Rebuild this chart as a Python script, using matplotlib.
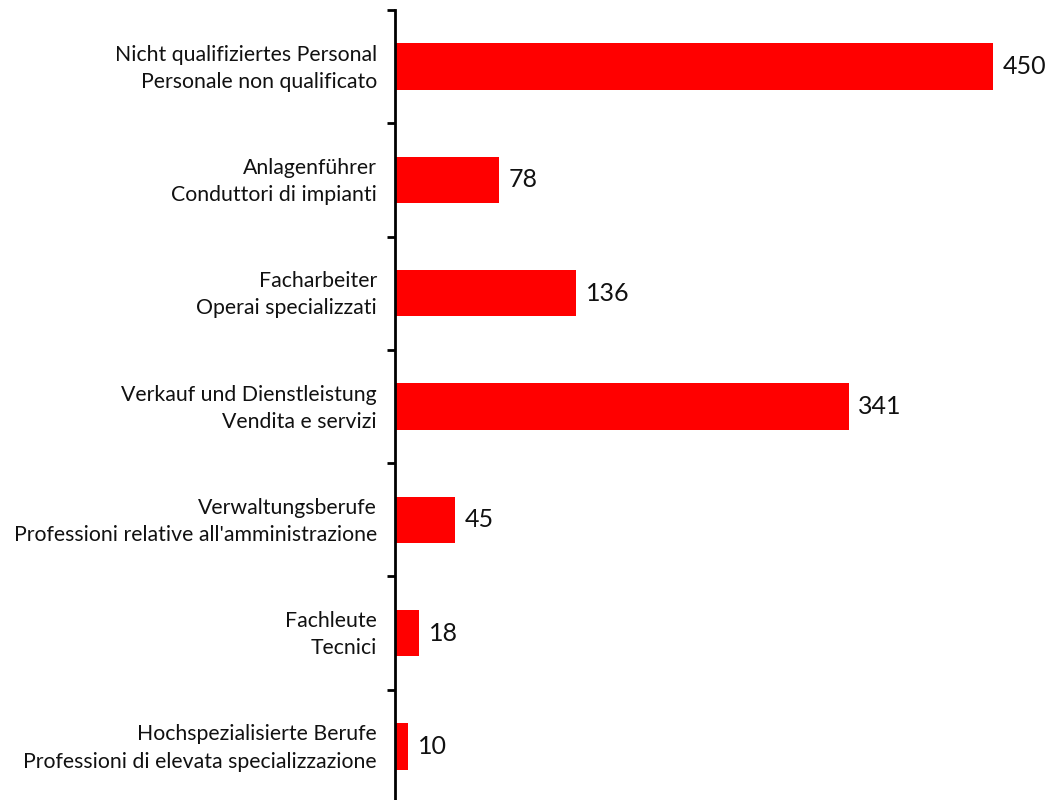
import numpy as np
import matplotlib.pyplot as plt
from matplotlib.transforms import ScaledTranslation

# Berufsgruppen / gruppi professionali
labels_de = ['Nicht qualifiziertes Personal', 'Anlagenführer', 'Facharbeiter',
             'Verkauf und Dienstleistung', 'Verwaltungsberufe', 'Fachleute',
             'Hochspezialisierte Berufe']
labels_it = ['Personale non qualificato', 'Conduttori di impianti', 'Operai specializzati',
             'Vendita e servizi', "Professioni relative all'amministrazione", 'Tecnici',
             'Professioni di elevata specializzazione']
values = [450, 78, 136, 341, 45, 18, 10]

plt.rcParams['font.family'] = ['Lato', 'DejaVu Sans']

W, H = 1052, 800
fig = plt.figure(figsize=(W / 100, H / 100), dpi=100)
ax = fig.add_axes([395 / W, -3 / H, (W - 395) / W, 793 / H])

y = np.arange(len(values))
ax.barh(y, values, height=0.41, color='#ff0000')
ax.set_ylim(len(values) - 0.5, -0.5)
ax.set_xlim(0, 494)

for yi, v in zip(y, values):
    ax.annotate(str(v), (v, yi), xytext=(7, 0), textcoords='offset points',
                ha='left', va='center', fontsize=18, color='#111111')

# boundaries as major ticks, names as minor labels
ax.set_yticks(np.arange(-0.5, len(values) + 0.5, 1))
ax.set_yticklabels([])
ax.set_yticks(y, minor=True)
ax.set_yticklabels([d + '\n' + i for d, i in zip(labels_de, labels_it)], minor=True,
                   fontsize=15.3, ha='right', linespacing=1.45, color='#111111')
ax.tick_params(axis='y', which='major', length=6, width=2, direction='out')
ax.tick_params(axis='y', which='minor', length=0, pad=13)

# nudge the two-line labels up a little
shift = ScaledTranslation(0, 4 / 100, fig.dpi_scale_trans)
for lab in ax.get_yticklabels(minor=True):
    lab.set_transform(lab.get_transform() + shift)

for s in ['top', 'right', 'bottom']:
    ax.spines[s].set_visible(False)
ax.spines['left'].set_linewidth(2)
ax.xaxis.set_visible(False)

fig.savefig('out.png', dpi=100)
